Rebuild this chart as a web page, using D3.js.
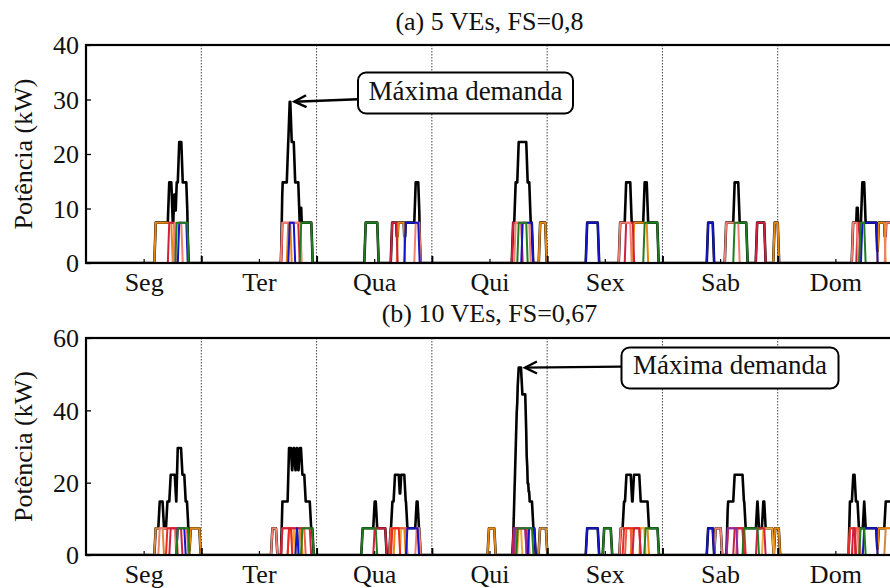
<!DOCTYPE html>
<html><head><meta charset="utf-8">
<script src="https://cdn.jsdelivr.net/npm/d3@7"></script>
<style>
body{margin:0;background:#fff}
svg{display:block}
text{font-family:"Liberation Serif","Times New Roman",serif;fill:#111}
</style>
</head><body>
<svg id="chart" width="890" height="588"></svg>
<script>
// ---------- data ----------
const days = ["Seg","Ter","Qua","Qui","Sex","Sab","Dom"];
const chargerKW = 7.4;           // power of one charging EV
const yTicksA = [0,10,20,30,40];
const yTicksB = [0,20,40,60];
const titleA = "(a) 5 VEs, FS=0,8";
const titleB = "(b) 10 VEs, FS=0,67";
const annotationText = "Máxima demanda";

// charging sessions: [dayIndex, startHour, endHour]
const a_orange  = [[0,14.37,17.91],[1,17.95,18.68],[2,16.84,18.30],[3,22.40,23.76],[4,17.97,20.88],[5,23.21,24.15],[6,20.87,22.32]];
const a_crimson = [[0,17.18,18.53],[1,16.80,20.34],[2,15.59,16.74],[3,16.78,18.76],[4,16.30,17.97],[5,19.57,21.34],[6,16.50,17.10]];
const a_salmon  = [[0,18.32,19.99],[1,16.70,20.76],[2,20.49,21.53],[3,17.30,20.43],[4,15.05,17.45],[5,13.12,15.93],[6,15.55,16.61],[6,22.42,23.98]];
const a_blue    = [[0,19.26,21.03],[1,18.26,19.40],[2,18.40,21.32],[3,18.76,20.95],[4,8.18,10.68],[5,9.37,10.62],[6,17.47,20.66]];
const a_green   = [[0,18.74,21.24],[1,20.65,23.05],[2,10.08,12.78],[3,17.93,19.80],[4,20.15,23.07],[5,14.89,17.59],[6,17.10,18.15]];

const b_peru    = [[0,14.37,16.09],[1,20.35,20.90],[3,22.36,23.90],[6,22.34,23.99]];
const b_orange  = [[0,21.65,23.74],[1,18.12,20.90],[2,16.18,18.41],[3,11.74,13.14],[4,17.55,21.05],[5,23.32,24.36],[6,20.88,23.99]];
const b_gold    = [[1,19.05,19.50],[2,17.47,18.76],[3,17.93,18.70],[4,19.33,20.36],[5,20.86,23.01]];
const b_salmon  = [[0,15.20,18.63],[1,14.66,15.70],[2,20.69,21.53],[3,17.41,20.22],[4,15.17,17.55],[5,10.93,12.28],[6,14.89,16.76]];
const b_tomato  = [[0,18.95,21.17],[1,16.74,21.59],[2,15.28,18.76],[3,17.51,20.01],[4,16.36,17.55],[5,15.51,16.82],[6,16.14,17.11]];
const b_red     = [[0,16.80,18.95],[1,18.12,18.80],[2,15.64,17.26],[3,17.20,19.80],[4,15.86,19.33],[5,13.53,17.18],[6,14.89,16.14]];
const b_crimson = [[0,17.49,19.93],[1,16.74,22.73],[2,11.95,14.45],[3,16.89,19.59],[4,17.93,19.33],[5,14.89,16.82],[5,19.61,21.34],[6,15.59,16.14]];
const b_purple  = [[3,17.09,19.59],[5,13.43,15.51]];
const b_blue    = [[0,18.95,20.61],[1,19.75,20.10],[2,18.76,21.17],[3,20.11,21.47],[4,8.18,10.68],[5,9.37,10.62],[6,17.86,20.65]];
const b_green   = [[0,18.95,21.40],[1,20.90,23.26],[2,9.45,12.47],[3,17.72,20.99],[4,11.72,13.39],[4,20.36,23.13],[5,16.82,19.95],[6,17.11,18.16]];

const colors = {peru:"#cf8a3c", orange:"#e8870f", gold:"#f2a93b", salmon:"#f08070", tomato:"#f25c45",
                red:"#ee2a1e", crimson:"#d0203f", purple:"#8b2aa6", blue:"#1414c8", green:"#1f7d1f"};

// ---------- layout ----------
const left = 86, right = 893;
const RAMP = 0.3; // hours for ramp edges of sampled curves
const FS = 26;

const panels = [
  {title:titleA, titleY:30, top:45, bottom:263, yMax:40, yTicks:yTicksA,
   evs:[["orange",a_orange],["crimson",a_crimson],["salmon",a_salmon],["blue",a_blue],["green",a_green]],
   box:{x:358,y:72.5,w:215,h:41,textX:465.5,textY:100}},
  {title:titleB, titleY:321.5, top:338, bottom:555, yMax:60, yTicks:yTicksB,
   evs:[["peru",b_peru],["orange",b_orange],["gold",b_gold],["salmon",b_salmon],["tomato",b_tomato],["red",b_red],
        ["crimson",b_crimson],["purple",b_purple],["blue",b_blue],["green",b_green]],
   box:{x:621.5,y:347.5,w:217,h:41,textX:730,textY:374}}
];

const svg = d3.select("#chart");
const x = d3.scaleLinear().domain([0,168]).range([left,right]);

function evPoints(sessions){
  const pts=[[0,0]];
  sessions.map(d=>[d[0]*24+d[1], d[0]*24+d[2], chargerKW])
    .sort((a,b)=>a[0]-b[0])
    .forEach(([s,e,p])=>{ pts.push([s-RAMP/2,0],[s+RAMP/2,p],[e-RAMP/2,p],[e+RAMP/2,0]); });
  pts.push([168,0]);
  return pts;
}
function valueAt(pts,t){
  for(let i=1;i<pts.length;i++){
    if(t<=pts[i][0]){
      const [x0,y0]=pts[i-1],[x1,y1]=pts[i];
      if(x1===x0) return y1;
      return y0+(y1-y0)*(t-x0)/(x1-x0);
    }
  }
  return 0;
}

panels.forEach((p,pi)=>{
  const y = d3.scaleLinear().domain([0,p.yMax]).range([p.bottom,p.top]);
  const g = svg.append("g");
  const clipId = "clip"+pi;
  svg.append("clipPath").attr("id",clipId).append("rect")
    .attr("x",left).attr("y",p.top).attr("width",right-left).attr("height",p.bottom-p.top);

  // day separators
  g.selectAll(".sep").data(d3.range(1,7).map(i=>i*24)).join("line")
    .attr("x1",d=>x(d)).attr("x2",d=>x(d)).attr("y1",p.top).attr("y2",p.bottom)
    .attr("stroke","#444").attr("stroke-width",1).attr("stroke-dasharray","1.5,1.5");

  const evData = p.evs.map(([c,s])=>({color:colors[c], pts:evPoints(s)}));
  const bps = Array.from(new Set(evData.flatMap(e=>e.pts.map(q=>q[0])))).sort((a,b)=>a-b);
  const total = bps.map(t=>[t, d3.sum(evData, e=>valueAt(e.pts,t))]);

  const line = d3.line().x(d=>x(d[0])).y(d=>y(d[1]));
  const lg = g.append("g").attr("clip-path",`url(#${clipId})`);
  lg.append("path").attr("d",line(total)).attr("fill","none").attr("stroke","#000")
    .attr("stroke-width",2.6).attr("stroke-linejoin","round");
  evData.forEach(e=>{
    lg.append("path").attr("d",line(e.pts)).attr("fill","none").attr("stroke",e.color)
      .attr("stroke-width",2).attr("stroke-linejoin","round");
  });

  // axes
  const ya = g.append("g").attr("transform",`translate(${left},0)`)
    .call(d3.axisLeft(y).tickValues(p.yTicks).tickSizeInner(-5).tickSizeOuter(0).tickPadding(7));
  ya.select(".domain").remove();
  ya.selectAll("line").attr("stroke","#000").attr("stroke-width",1.3);
  ya.selectAll("text").attr("font-size",FS).attr("font-family","Liberation Serif, serif").attr("fill","#111").attr("dy","0.34em");

  const xa = g.append("g").attr("transform",`translate(0,${p.bottom})`)
    .call(d3.axisBottom(x).tickValues(days.map((d,i)=>i*24+12)).tickFormat((d,i)=>days[i])
      .tickSizeInner(-4).tickSizeOuter(0).tickPadding(10));
  xa.select(".domain").remove();
  xa.selectAll("line").attr("stroke","#000").attr("stroke-width",1.2);
  xa.selectAll("text").attr("font-size",FS).attr("font-family","Liberation Serif, serif").attr("fill","#111");

  const xb = g.append("g").attr("transform",`translate(0,${p.bottom})`)
    .call(d3.axisBottom(x).tickValues(d3.range(1,7).map(i=>i*24)).tickFormat("")
      .tickSizeInner(-7).tickSizeOuter(0));
  xb.select(".domain").remove();
  xb.selectAll("line").attr("stroke","#000").attr("stroke-width",2);

  // spines
  g.append("rect").attr("x",left).attr("y",p.top).attr("width",right-left).attr("height",p.bottom-p.top)
    .attr("fill","none").attr("stroke","#000").attr("stroke-width",2.2);

  // labels
  g.append("text").attr("x",(left+right)/2).attr("y",p.titleY).attr("text-anchor","middle")
    .attr("font-size",FS).text(p.title);
  g.append("text").attr("transform",`translate(32,${(p.top+p.bottom)/2}) rotate(-90)`)
    .attr("text-anchor","middle").attr("font-size",FS).text("Potência (kW)");

  // annotation of peak
  const maxV = d3.max(total,d=>d[1]);
  const peakPts = total.filter(d=>Math.abs(d[1]-maxV)<1e-6);
  const pk = peakPts[peakPts.length-1];
  const tipX = x(pk[0])+4, tipY = y(pk[1]);
  const sx = p.box.x, sy = pi===0 ? tipY-2.5 : tipY-1;
  const dx = tipX-sx, dy = tipY-sy, L = Math.hypot(dx,dy), ux = dx/L, uy = dy/L, nx=-uy, ny=ux;
  g.append("line").attr("x1",sx).attr("y1",sy).attr("x2",tipX).attr("y2",tipY)
    .attr("stroke","#000").attr("stroke-width",2.4);
  g.append("path").attr("d",`M${tipX-12*ux+6*nx},${tipY-12*uy+6*ny}L${tipX},${tipY}L${tipX-12*ux-6*nx},${tipY-12*uy-6*ny}`)
    .attr("fill","none").attr("stroke","#000").attr("stroke-width",2.4).attr("stroke-linejoin","miter");
  g.append("rect").attr("x",p.box.x).attr("y",p.box.y).attr("width",p.box.w).attr("height",p.box.h)
    .attr("rx",8).attr("ry",8).attr("fill","#fff").attr("stroke","#000").attr("stroke-width",2);
  g.append("text").attr("x",p.box.textX).attr("y",p.box.textY).attr("text-anchor","middle")
    .attr("font-size",27).text(annotationText);
});
</script>
</body></html>
